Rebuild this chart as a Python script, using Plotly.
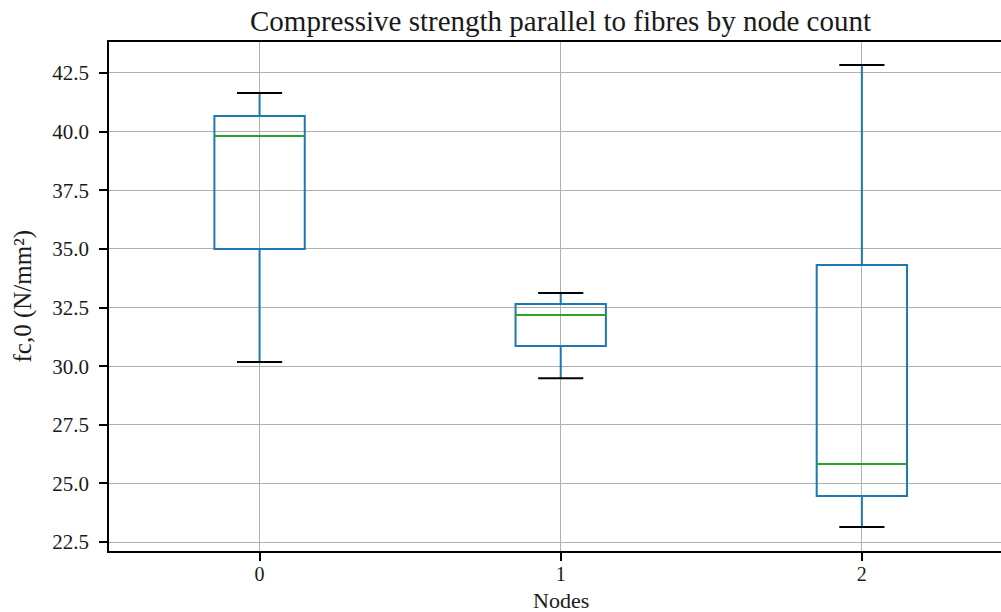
import plotly.graph_objects as go

categories = [0, 1, 2]
cat_labels = ["0", "1", "2"]
lower_whisker = [30.18, 29.49, 23.14]
q1_vals = [34.99, 30.86, 24.46]
median_vals = [39.81, 32.18, 25.83]
q3_vals = [40.67, 32.65, 34.31]
upper_whisker = [41.65, 33.12, 42.84]

title_text = "Compressive strength parallel to fibres by node count"
x_title = "Nodes"
y_title = "fc,0 (N/mm²)"
y_ticks = [22.5, 25.0, 27.5, 30.0, 32.5, 35.0, 37.5, 40.0, 42.5]

BOX_W = 0.3
CAP_W = 0.15
FONT = "Liberation Serif, Times New Roman, serif"
TXT = "#1a1a1a"

fig = go.Figure()
fig.add_trace(go.Box(
    x=categories, q1=q1_vals, median=median_vals, q3=q3_vals,
    lowerfence=lower_whisker, upperfence=upper_whisker,
    width=BOX_W, whiskerwidth=0, fillcolor="rgba(0,0,0,0)",
    line=dict(color="#1f77b4", width=2), boxpoints=False,
    showlegend=False, hoverinfo="skip",
))

mx, my = [], []
for c, m in zip(categories, median_vals):
    mx += [c - BOX_W / 2, c + BOX_W / 2, None]
    my += [m, m, None]
fig.add_trace(go.Scatter(x=mx, y=my, mode="lines",
                         line=dict(color="#2ca02c", width=2),
                         showlegend=False, hoverinfo="skip"))
cx, cy = [], []
for c, lo, hi in zip(categories, lower_whisker, upper_whisker):
    cx += [c - CAP_W / 2, c + CAP_W / 2, None, c - CAP_W / 2, c + CAP_W / 2, None]
    cy += [lo, lo, None, hi, hi, None]
fig.add_trace(go.Scatter(x=cx, y=cy, mode="lines",
                         line=dict(color="black", width=2),
                         showlegend=False, hoverinfo="skip"))

fig.update_layout(
    width=1001, height=612,
    margin=dict(l=109, r=0, t=42, b=61),
    plot_bgcolor="white", paper_bgcolor="white",
    font=dict(family=FONT, color=TXT, size=20),
    xaxis=dict(
        range=[-0.5, 2.462], tickmode="array", tickvals=categories, ticktext=cat_labels,
        showgrid=True, gridcolor="#b0b0b0", gridwidth=1.3,
        showline=True, linecolor="black", linewidth=1.6, mirror=True,
        ticks="outside", ticklen=8, tickcolor="black", tickwidth=1.6,
        ticklabelstandoff=-4,
        tickfont=dict(size=20, family=FONT, color=TXT), zeroline=False,
    ),
    yaxis=dict(
        range=[22.12, 43.82], tickmode="array", tickvals=y_ticks,
        ticktext=[f"{v:.1f}" for v in y_ticks],
        showgrid=True, gridcolor="#b0b0b0", gridwidth=1.3,
        showline=True, linecolor="black", linewidth=1.6,
        ticks="outside", ticklen=8, tickcolor="black", tickwidth=1.6,
        ticklabelstandoff=6,
        tickfont=dict(size=21, family=FONT, color=TXT), zeroline=False,
    ),
    annotations=[
        dict(text=title_text, xref="x", yref="paper", x=1, y=1, yshift=21,
             yanchor="middle", showarrow=False, font=dict(size=29, family=FONT, color=TXT)),
        dict(text=x_title, xref="x", yref="paper", x=1, y=0, yshift=-49,
             yanchor="middle", showarrow=False, font=dict(size=22, family=FONT, color=TXT)),
        dict(text=y_title, xref="paper", yref="paper", x=0, y=0.5, xshift=-87,
             xanchor="center", yanchor="middle", textangle=-90, showarrow=False,
             font=dict(size=25, family=FONT, color=TXT)),
    ],
)

fig.write_html("out.html", config={"displayModeBar": False},
               post_script="document.body.style.margin='0';document.body.style.overflow='hidden';")
